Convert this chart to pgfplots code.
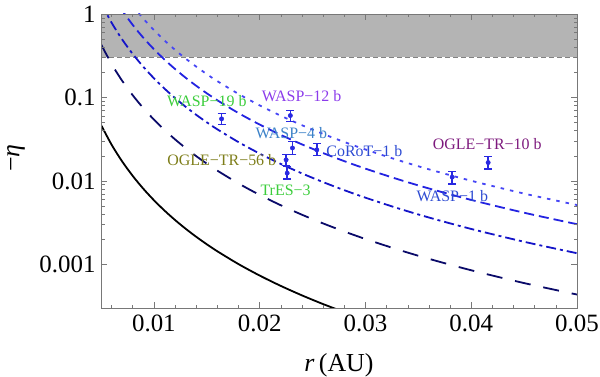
\documentclass[border=0pt]{standalone}
\usepackage{pgfplots}
\pgfplotsset{compat=1.18}
\usepackage{fontspec}
\setmainfont{Liberation Serif}
\definecolor{cdot}{RGB}{70,70,245}
\definecolor{cdash}{RGB}{35,35,225}
\definecolor{cdd}{RGB}{20,20,200}
\definecolor{cld}{RGB}{10,10,105}
\definecolor{cpt}{RGB}{40,40,225}
\definecolor{lgreen}{RGB}{60,205,60}
\definecolor{lviolet}{RGB}{140,60,235}
\definecolor{lsteel}{RGB}{60,130,200}
\definecolor{lblue}{RGB}{45,75,210}
\definecolor{lolive}{RGB}{125,125,25}
\definecolor{lpurple}{RGB}{125,25,125}
\definecolor{frame}{RGB}{120,120,120}
\definecolor{band}{RGB}{180,180,180}
\definecolor{bandedge}{RGB}{130,130,130}
\begin{document}
\begin{tikzpicture}
\path[use as bounding box] (0,0) rectangle (600bp,377bp);
\begin{axis}[
  at={(101bp,69bp)}, anchor=south west,
  scale only axis, width=476bp, height=294bp,
  ymode=log, xmin=0.005, xmax=0.05, ymin=3e-4, ymax=1,
  axis on top,
  axis line style={frame, line width=0.6bp},
  every tick/.style={frame, line width=0.5bp},
  major tick length=6bp, minor tick length=3.5bp,
  tick align=inside,
  scaled x ticks=false,
  xtick={0.01,0.02,0.03,0.04,0.05},
  xticklabels={0.01,0.02,0.03,0.04,0.05},
  minor xtick={0.006,0.008,0.012,0.014,0.016,0.018,0.022,0.024,0.026,0.028,0.032,0.034,0.036,0.038,0.042,0.044,0.046,0.048},
  ytick={0.001,0.01,0.1,1},
  yticklabels={0.001,0.01,0.1,1},
  /pgf/number format/assume math mode=true,
  ticklabel style={font=\fontsize{25}{25}\selectfont},
  xticklabel style={yshift=-3bp},
  yticklabel style={xshift=-2bp},
  xlabel={\textit{r}\,(AU)},
  xlabel style={at={(axis description cs:0.5,0)}, anchor=center, yshift=-57bp, font=\fontsize{26}{26}\selectfont},
  clip=true,
]
% excluded region
\addplot[fill=band, draw=none] coordinates {(0.005,0.3) (0.05,0.3) (0.05,1) (0.005,1)} -- cycle;
\addplot[white, line width=1bp] coordinates {(0.005,0.3) (0.05,0.3)};
\addplot[bandedge, line width=0.8bp, dash pattern=on 5bp off 3bp] coordinates {(0.005,0.3) (0.05,0.3)};
% dotted
\addplot[cdot, line width=1.8bp, dash pattern=on 3.5bp off 6bp, smooth] coordinates {
(0.008,1.2549) (0.009,0.88136) (0.010,0.6425) (0.011,0.48272) (0.012,0.37182) (0.013,0.29245) (0.014,0.23415) (0.015,0.19037) (0.016,0.15686) (0.018,0.11017) (0.020,0.080313) (0.022,0.060338) (0.024,0.046477) (0.026,0.036555) (0.028,0.029268) (0.030,0.023796) (0.033,0.017878) (0.036,0.013771) (0.040,0.010039) (0.045,0.0070505) (0.050,0.00514)};
% dashed
\addplot[cdash, line width=1.8bp, dash pattern=on 10bp off 5bp, smooth] coordinates {
(0.006,1.7535) (0.007,1.1042) (0.008,0.73974) (0.009,0.51955) (0.010,0.37875) (0.011,0.28456) (0.012,0.21918) (0.013,0.17239) (0.014,0.13803) (0.015,0.11222) (0.016,0.09247) (0.018,0.064942) (0.020,0.047344) (0.022,0.035569) (0.024,0.027398) (0.026,0.021549) (0.028,0.017253) (0.030,0.014028) (0.033,0.010539) (0.036,0.008118) (0.040,0.0059179) (0.045,0.0041563) (0.050,0.00303)};
% dash-dot
\addplot[cdd, line width=1.8bp, dash pattern=on 10bp off 4bp on 3bp off 4bp, smooth] coordinates {
(0.005,1.36) (0.006,0.78703) (0.007,0.49562) (0.008,0.33203) (0.009,0.2332) (0.010,0.17) (0.011,0.12772) (0.012,0.09838) (0.013,0.077379) (0.014,0.061953) (0.015,0.05037) (0.016,0.041504) (0.018,0.029149) (0.020,0.02125) (0.022,0.015965) (0.024,0.012297) (0.026,0.0096722) (0.028,0.0077441) (0.030,0.0062963) (0.033,0.0047305) (0.036,0.0036437) (0.040,0.0026562) (0.045,0.0018655) (0.050,0.00136)};
% long dash
\addplot[cld, line width=1.8bp, dash pattern=on 16bp off 13bp, smooth] coordinates {
(0.005,0.435) (0.006,0.25173) (0.007,0.15853) (0.008,0.1062) (0.009,0.074589) (0.010,0.054375) (0.011,0.040853) (0.012,0.031467) (0.013,0.02475) (0.014,0.019816) (0.015,0.016111) (0.016,0.013275) (0.018,0.0093234) (0.020,0.0067969) (0.022,0.0051065) (0.024,0.0039334) (0.026,0.0030937) (0.028,0.002477) (0.030,0.0020139) (0.033,0.0015131) (0.036,0.0011655) (0.040,0.0008496) (0.045,0.00059669) (0.050,0.000435)};
% solid black
\addplot[black, line width=1.8bp, smooth] coordinates {
(0.005,0.047) (0.006,0.027199) (0.007,0.017128) (0.008,0.011475) (0.009,0.0080591) (0.010,0.005875) (0.011,0.004414) (0.012,0.0033999) (0.013,0.0026741) (0.014,0.002141) (0.015,0.0017407) (0.016,0.0014343) (0.018,0.0010074) (0.020,0.00073438) (0.022,0.00055173) (0.024,0.00042498) (0.026,0.00033426) (0.028,0.00026763)};
% data points
\addplot[cpt, only marks, mark=*, mark size=2.2bp,
  error bars/.cd, y dir=both, y explicit,
  error bar style={cpt, line width=1.6bp},
  error mark options={cpt, rotate=90, mark size=4bp, line width=1.4bp}]
coordinates {
(0.0164,0.0554) += (0,0.0087) -= (0,0.0081)
(0.0229,0.0607) += (0,0.0090) -= (0,0.0089)
(0.0231,0.0248) += (0,0.0049) -= (0,0.0042)
(0.0254,0.0236) += (0,0.0043) -= (0,0.0036)
(0.0225,0.0179) += (0,0.0027) -= (0,0.0026)
(0.0226,0.0124) += (0,0.0025) -= (0,0.0019)
(0.0382,0.0111) += (0,0.0018) -= (0,0.0019)
(0.0416,0.0166) += (0,0.0030) -= (0,0.0027)
};
% labels
\begin{scope}[every node/.style={font=\fontsize{16}{16}\selectfont, inner sep=0pt, anchor=center}]
\node[lgreen] at (axis cs:0.0150,0.0895) {WASP−19 b};
\node[lviolet] at (axis cs:0.02396,0.1028) {WASP−12 b};
\node[lsteel] at (axis cs:0.0230,0.0379) {WASP−4 b};
\node[lblue] at (axis cs:0.0299,0.0230) {CoRoT−1 b};
\node[lolive] at (axis cs:0.01642,0.0179) {OGLE−TR−56 b};
\node[lgreen] at (axis cs:0.02245,0.0078) {TrES−3};
\node[lblue] at (axis cs:0.03821,0.00659) {WASP−1 b};
\node[lpurple] at (axis cs:0.04151,0.0279) {OGLE−TR−10 b};
\end{scope}
\end{axis}
\node[rotate=90, font=\fontsize{26}{26}\selectfont, anchor=center] at (16bp,219bp) {−\textit{η}};
\end{tikzpicture}
\end{document}
